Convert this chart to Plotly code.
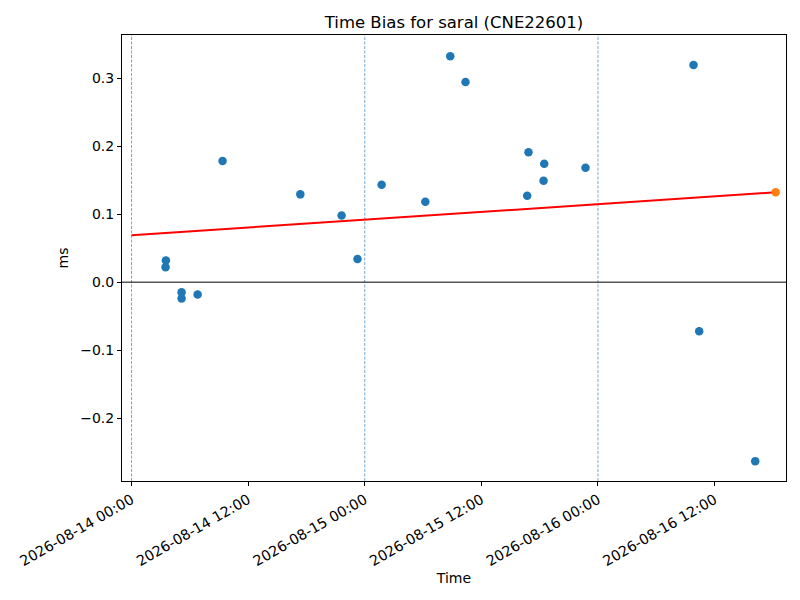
import plotly.graph_objects as go
import pandas as pd

# Measured time-bias points
times = [
    "2026-08-14 03:32", "2026-08-14 03:30", "2026-08-14 05:09", "2026-08-14 05:09",
    "2026-08-14 06:48", "2026-08-14 09:22", "2026-08-14 17:22", "2026-08-14 21:37",
    "2026-08-14 23:15", "2026-08-15 01:44", "2026-08-15 06:14", "2026-08-15 08:48",
    "2026-08-15 10:22", "2026-08-15 16:51", "2026-08-15 16:43", "2026-08-15 18:28",
    "2026-08-15 18:24", "2026-08-15 22:43", "2026-08-16 09:50", "2026-08-16 10:25",
    "2026-08-16 16:11",
]
bias_ms = [
    0.032, 0.022, -0.015, -0.024,
    -0.018, 0.178, 0.129, 0.098,
    0.034, 0.143, 0.118, 0.332,
    0.294, 0.191, 0.127, 0.174,
    0.149, 0.168, 0.319, -0.072,
    -0.263,
]

# Fit line and predicted point
fit_times = ["2026-08-14 00:00", "2026-08-16 18:17"]
fit_values = [0.069, 0.132]
pred_time = ["2026-08-16 18:17"]
pred_value = [0.132]

# Day boundaries
day_lines = ["2026-08-14 00:00", "2026-08-15 00:00", "2026-08-16 00:00"]

x_range = ["2026-08-13 23:01", "2026-08-16 19:21"]
y_range = [-0.2922, 0.3632]

fig = go.Figure()

for d in day_lines:
    fig.add_shape(type="line", xref="x", yref="paper", x0=d, x1=d, y0=0, y1=1,
                  line=dict(color="#4f93c8", width=0.8, dash="3px,1.5px"), layer="below")

fig.add_shape(type="line", xref="paper", yref="y", x0=0, x1=1, y0=0, y1=0,
              line=dict(color="black", width=1), layer="below")

fig.add_trace(go.Scatter(x=pd.to_datetime(times), y=bias_ms, mode="markers",
                         marker=dict(color="#1f77b4", size=8.5), showlegend=False))
fig.add_trace(go.Scatter(x=pd.to_datetime(fit_times), y=fit_values, mode="lines",
                         line=dict(color="red", width=2), showlegend=False))
fig.add_trace(go.Scatter(x=pd.to_datetime(pred_time), y=pred_value, mode="markers",
                         marker=dict(color="#ff7f0e", size=8.5), showlegend=False))

font = "DejaVu Sans"
fig.update_layout(
    width=800, height=600,
    margin=dict(l=114, r=22, t=27, b=127, autoexpand=False),
    paper_bgcolor="white", plot_bgcolor="white",
    font=dict(family=font, size=14, color="black"),
    title=dict(text="Time Bias for saral (CNE22601)", x=0.5, xref="paper",
               y=1 - 14 / 600, yanchor="middle", font=dict(size=16.5)),
)
fig.update_xaxes(
    range=x_range, type="date", automargin=False,
    tick0="2026-08-14 00:00", dtick=43200000, tickformat="%Y-%m-%d %H:%M",
    tickangle=-30, ticks="outside", ticklen=4, tickcolor="black",
    tickfont=dict(size=14.3),
    showgrid=False, zeroline=False,
    showline=True, mirror=True, linecolor="black", linewidth=1,
    title=dict(text="Time", standoff=4, font=dict(size=14)),
)
fig.update_yaxes(
    range=y_range, tickvals=[-0.2, -0.1, 0.0, 0.1, 0.2, 0.3], tickformat=".1f",
    automargin=False,
    ticks="outside", ticklen=4, tickcolor="black",
    tickfont=dict(size=14),
    showgrid=False, zeroline=False,
    showline=True, mirror=True, linecolor="black", linewidth=1,
    title=dict(text="ms", standoff=8, font=dict(size=14)),
)

fig.write_html("out.html")
